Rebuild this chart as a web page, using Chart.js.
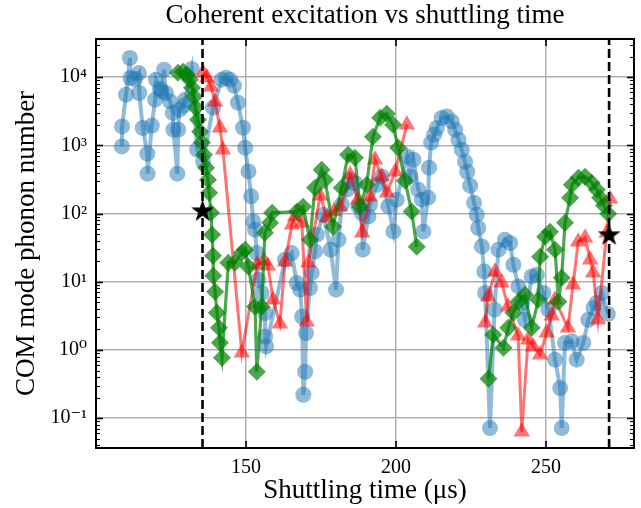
<!DOCTYPE html>
<html><head><meta charset="utf-8">
<script src="https://cdn.jsdelivr.net/npm/chart.js@4/dist/chart.umd.min.js"></script>
<style>html,body{margin:0;padding:0;background:#fff}#wrap{width:641px;height:508px}</style>
</head><body><div id="wrap"><canvas id="c" width="641" height="508"></canvas></div>
<script>
// ---- data ----
const blueX = [108.6,108.7,110.0,111.3,111.5,113.0,114.3,114.4,115.6,117.1,
117.2,118.6,119.7,120.0,121.3,121.9,122.7,123.3,124.7,125.6,
125.8,127.1,127.4,127.8,129.3,129.7,131.9,133.7,135.7,139.0,
141.9,143.3,144.7,146.0,147.3,149.0,149.7,150.8,151.7,152.4,
153.0,153.6,154.1,155.2,156.3,156.4,156.7,163.0,165.2,166.9,
168.0,168.7,169.1,169.7,170.0,171.3,171.9,173.0,173.6,175.8,
178.2,180.0,180.8,181.9,183.6,184.7,186.3,187.4,188.6,188.9,
190.8,191.3,193.6,195.2,197.4,199.1,200.2,203.6,204.7,205.8,
207.4,208.6,209.1,210.7,211.0,211.7,212.7,213.6,215.2,216.9,
218.6,219.7,220.8,221.9,223.0,223.7,224.7,226.0,226.9,227.4,
228.6,229.4,229.7,231.3,232.8,234.1,236.3,238.0,239.1,240.8,
241.9,243.0,245.2,246.9,249.1,250.8,253.0,254.7,255.2,256.3,
258.6,260.2,262.4,264.1,265.8,266.9,268.6,270.6];
const blueY = [967,1900,5540,19100,9730,9410,11500,5870,1800,756,
385,1950,4680,9190,6710,6190,12900,5870,4420,2990,
1700,385,1700,3340,3820,4680,13200,865,577,3570,
9190,9840,9190,7500,4230,1820,925,416,179,76.9,
58.1,26.4,10.7,6.85,3.49,1.58,1.13,21.1,26.4,9.6,
7.66,3.1,0.221,0.48,1.77,8.11,13.5,27.9,49.1,96.4,
29.6,7.66,41.4,135,224,314,281,128,102,29.6,
91,135,265,351,128,54.8,160,690,351,617,
224,160,54.8,171,471,1100,1440,1800,2520,2660,
2250,1700,1210,865,577,411,257,144,96.4,61.5,
33.0,14.2,6.85,0.0718,3.9,29.6,41.4,37.1,17.8,8.57,
4.89,2.78,12.0,12.7,6.85,3.9,0.721,0.277,0.0718,1.27,
1.34,0.721,1.27,2.78,4.13,4.89,6.85,3.37];

const redX = [135.7,137.0,138.3,139.7,141.3,142.3,148.6,153.7,156.0,157.3,
159.0,161.3,163.0,165.3,166.3,168.6,170.2,170.8,174.7,177.0,
179.3,181.3,184.7,187.3,188.7,191.3,193.0,195.2,197.0,199.7,203.6,
216.0,
229.7,230.7,233.0,235.2,237.3,240.7,241.9,244.0,245.7,248.0,
250.2,251.9,253.0,257.3,259.0,260.7,263.0,264.7,265.7,267.3,270.2,271.3];
const redY = [11600,9840,7260,4370,1820,865,0.913,17.8,20.4,17.2,
5.47,2.43,19.7,68.7,90.1,73.6,2.6,19.1,183,87.1,
107,126,372,160,52.5,177,617,348,203,411,2010,
null,
2.51,6.05,14.1,9.7,4.31,1.62,0.0634,1.42,1.12,0.853,
1.79,3.18,5.47,2.12,9.07,38.7,44.3,21.1,13.6,2.78,52.5,165];

const greenX = [127.3,129.0,130.3,131.3,132.0,132.7,133.3,134.0,134.7,135.3,
136.0,136.7,137.3,137.7,138.3,138.7,139.0,139.1,139.7,140.3,
141.0,141.3,142.0,144.1,146.3,148.6,149.7,150.8,153.0,153.6,
155.2,156.3,158.0,158.7,167.0,169.0,171.3,173.0,175.2,176.3,
179.0,181.9,184.0,186.3,188.0,190.2,192.3,194.7,196.9,199.0,
200.7,203.0,205.2,206.9,
218.0,
230.8,232.4,235.8,237.4,239.1,240.8,243.0,245.2,247.4,248.0,
249.7,251.3,253.0,254.1,255.2,256.3,258.0,258.6,260.8,263.0,
265.2,266.9,268.0,269.3,270.7];
const greenY = [11600,12000,10900,9190,7020,5180,3570,2380,1590,1100,
731,471,314,203,103,49.1,24.1,12.3,7.16,3.52,
2.12,1.28,0.77,19.1,19.1,26.7,29.6,16.6,4.31,0.481,
4.31,52.5,73.6,103,107,126,41.4,240,440,314,
64.3,240,731,660,126,265,1340,2550,2920,2010,
925,304,107,32.7,
null,
0.38,1.68,1.08,2.12,3.52,5.11,6.47,2.12,5.47,23.3,
45.9,54.3,29.6,5.11,11.5,73.6,171,265,336,348,
284,224,171,131,99.7];

const markerX = [135.5, 271.0];
const starY = [110, 49];

const xTickValues = [150, 200, 250];
const xTickLabels = ['150', '200', '250'];
const yTickValues = [0.1, 1, 10, 100, 1000, 10000];
const yTickLabels = ['10\u207B\u00B9', '10\u2070', '10\u00B9', '10\u00B2', '10\u00B3', '10\u2074'];

const X_MIN = 100, X_MAX = 279.3, Y_MIN = 0.0366, Y_MAX = 36300;
const SERIF = "'Liberation Serif','Times New Roman','DejaVu Serif',serif";

function pts(xs, ys) { return xs.map((x, i) => ({ x: x, y: ys[i] })); }

// filled five-pointed star marker
const star = document.createElement('canvas');
star.width = 25; star.height = 25;
(function () {
  const c = star.getContext('2d');
  const cx = 12.5, cy = 13, R = 12, r = R * 0.382;
  c.beginPath();
  for (let i = 0; i < 10; i++) {
    const ang = -Math.PI / 2 + i * Math.PI / 5;
    const rr = i % 2 === 0 ? R : r;
    const px = cx + rr * Math.cos(ang), py = cy + rr * Math.sin(ang);
    if (i === 0) c.moveTo(px, py); else c.lineTo(px, py);
  }
  c.closePath();
  c.fillStyle = '#000';
  c.fill();
})();

const frameTicks = {
  id: 'frameTicks',
  afterDatasetsDraw(chart) {
    const ctx = chart.ctx, a = chart.chartArea;
    const xs = chart.scales.x, ys = chart.scales.y;
    ctx.save();
    ctx.strokeStyle = '#000';
    const line = (x1, y1, x2, y2) => { ctx.beginPath(); ctx.moveTo(x1, y1); ctx.lineTo(x2, y2); ctx.stroke(); };
    ctx.lineWidth = 1.6;
    xTickValues.forEach(v => {
      const px = Math.round(xs.getPixelForValue(v));
      line(px, a.bottom, px, a.bottom - 7);
      line(px, a.top, px, a.top + 7);
    });
    for (let k = -2; k <= 4; k++) {
      for (let m = 1; m <= 9; m++) {
        const v = m * Math.pow(10, k);
        if (v < Y_MIN || v > Y_MAX) continue;
        const py = Math.round(ys.getPixelForValue(v)) + 0.5;
        const len = m === 1 ? 7 : 4;
        ctx.lineWidth = m === 1 ? 1.6 : 1.1;
        line(a.left, py, a.left + len, py);
        line(a.right, py, a.right - len, py);
      }
    }
    ctx.lineWidth = 2;
    ctx.strokeRect(a.left, a.top, a.right - a.left, a.bottom - a.top);
    ctx.restore();
  }
};

new Chart(document.getElementById('c').getContext('2d'), {
  type: 'scatter',
  data: {
    datasets: [
      { data: pts(markerX, starY), pointStyle: star, pointRadius: 12, showLine: false },
      { data: [{ x: markerX[0], y: Y_MIN }, { x: markerX[0], y: Y_MAX }], showLine: true, borderColor: '#000', borderWidth: 2.6, borderDash: [9, 4], pointRadius: 0 },
      { data: [{ x: markerX[1], y: Y_MIN }, { x: markerX[1], y: Y_MAX }], showLine: true, borderColor: '#000', borderWidth: 2.6, borderDash: [9, 4], pointRadius: 0 },
      { data: pts(greenX, greenY), showLine: true, spanGaps: false, borderColor: 'rgba(0,128,0,0.7)', borderWidth: 3.2,
        pointStyle: 'rectRot', pointRadius: 9, pointBackgroundColor: 'rgba(0,128,0,0.7)', pointBorderWidth: 0, pointBorderColor: 'rgba(0,0,0,0)' },
      { data: pts(redX, redY), showLine: true, spanGaps: false, borderColor: 'rgba(255,0,0,0.55)', borderWidth: 3,
        pointStyle: 'triangle', pointRadius: 9.5, pointBackgroundColor: 'rgba(255,0,0,0.55)', pointBorderWidth: 0, pointBorderColor: 'rgba(0,0,0,0)' },
      { data: pts(blueX, blueY), showLine: true, borderColor: 'rgba(31,119,180,0.5)', borderWidth: 4,
        pointStyle: 'circle', pointRadius: 8, pointBackgroundColor: 'rgba(31,119,180,0.5)', pointBorderWidth: 0, pointBorderColor: 'rgba(0,0,0,0)' }
    ]
  },
  options: {
    responsive: false,
    animation: false,
    devicePixelRatio: 1,
    events: [],
    layout: { autoPadding: false, padding: { left: 0, right: 7, top: 0, bottom: 0 } },
    plugins: { legend: { display: false }, tooltip: { enabled: false }, title: { display: false } },
    scales: {
      x: {
        type: 'linear', position: 'bottom', min: X_MIN, max: X_MAX,
        afterBuildTicks: s => { s.ticks = xTickValues.map(v => ({ value: v })); },
        afterFit: s => { s.height = 60; },
        grid: { color: '#b0b0b0', lineWidth: 1.5, drawTicks: false },
        border: { display: false },
        ticks: { font: { family: SERIF, size: 20 }, color: '#000', padding: 8, maxRotation: 0, autoSkip: false,
          callback: v => xTickLabels[xTickValues.indexOf(v)] },
        title: { display: true, text: 'Shuttling time (\u03BCs)', font: { family: SERIF, size: 27 }, color: '#000', padding: { top: 0, bottom: 1 } }
      },
      xTop: {
        type: 'linear', position: 'top', min: X_MIN, max: X_MAX,
        afterFit: s => { s.height = 39; },
        grid: { display: false }, border: { display: false }, ticks: { display: false },
        title: { display: true, text: 'Coherent excitation vs shuttling time', font: { family: SERIF, size: 27 }, color: '#000', padding: { top: 0, bottom: 0 } }
      },
      y: {
        type: 'logarithmic', position: 'left', min: Y_MIN, max: Y_MAX,
        afterBuildTicks: s => { s.ticks = yTickValues.map(v => ({ value: v })); },
        afterFit: s => { s.width = 96; },
        grid: { color: '#b0b0b0', lineWidth: 1.5, drawTicks: false },
        border: { display: false },
        ticks: { font: { family: SERIF, size: 20 }, color: '#000', padding: 9, autoSkip: false,
          callback: v => { const i = yTickValues.indexOf(v); return i >= 0 ? yTickLabels[i] : ''; } },
        title: { display: true, text: 'COM mode phonon number', font: { family: SERIF, size: 27 }, color: '#000', padding: { top: 11, bottom: 0 } }
      }
    }
  },
  plugins: [frameTicks]
});
</script>
</body></html>
